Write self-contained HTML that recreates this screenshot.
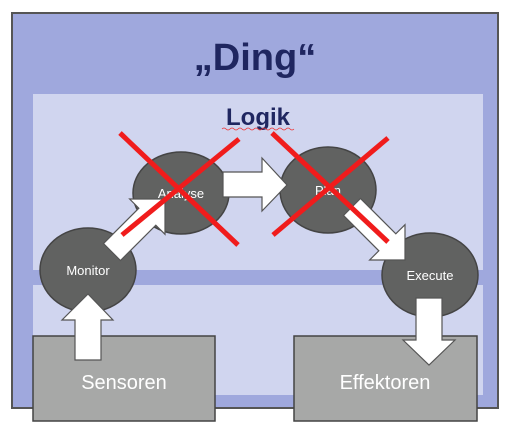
<!DOCTYPE html>
<html><head><meta charset="utf-8"><style>
html,body{margin:0;padding:0;background:#fff;}
svg{display:block;}
text{font-family:"Liberation Sans",Arial,sans-serif;}
</style></head><body>
<svg width="509" height="430" viewBox="0 0 509 430" xmlns="http://www.w3.org/2000/svg">
<rect x="12" y="13" width="486" height="395" fill="#9fa8dd" stroke="#555" stroke-width="2"/>
<rect x="33" y="94" width="450" height="176" fill="#d0d5ef"/>
<rect x="33" y="285" width="450" height="110" fill="#d0d5ef"/>
<text x="255" y="70" text-anchor="middle" font-size="38" font-weight="bold" fill="#1f2660">„Ding“</text>
<text x="258" y="125" text-anchor="middle" font-size="24" font-weight="bold" fill="#1f2660">Logik</text>
<path d="M222 129 q2 -2 4 0 t4 0 t4 0 t4 0 t4 0 t4 0 t4 0 t4 0 t4 0 t4 0 t4 0 t4 0 t4 0 t4 0 t4 0 t4 0 t4 0 t4 0" fill="none" stroke="#e33" stroke-width="0.8"/>

<g fill="#616261" stroke="#444" stroke-width="1.5">
<ellipse cx="181" cy="193" rx="48" ry="41"/>
<ellipse cx="328" cy="190" rx="48" ry="43"/>
<ellipse cx="88" cy="270" rx="48" ry="42"/>
<ellipse cx="430" cy="275" rx="48" ry="42"/>
</g>
<g fill="#fff" font-size="13" text-anchor="middle">
<text x="181" y="198">Analyse</text>
<text x="328" y="195">Plan</text>
<text x="88" y="275">Monitor</text>
<text x="430" y="280">Execute</text>
</g>

<g fill="#a7a8a7" stroke="#444" stroke-width="1.5">
<rect x="33" y="336" width="182" height="85"/>
<rect x="294" y="336" width="183" height="85"/>
</g>
<g fill="#fff" font-size="20" text-anchor="middle">
<text x="124" y="389">Sensoren</text>
<text x="385" y="389">Effektoren</text>
</g>

<g fill="#fff" stroke="#555" stroke-width="1.2">
<!-- up arrow -->
<polygon points="75,360 75,320 62,320 88,294 113,320 101,320 101,360"/>
<!-- down arrow -->
<polygon points="416,298 442,298 442,340 455,340 429,365 403,340 416,340"/>
<!-- analyse to plan -->
<polygon points="223,172 262,172 262,158 287,185 262,211 262,197 223,197"/>
<!-- monitor to analyse -->
<g transform="translate(165,199) rotate(-45)">
<polygon points="-75,-12 -25,-12 -25,-25 0,0 -25,25 -25,12 -75,12"/>
</g>
<!-- plan to execute -->
<g transform="translate(405,260) rotate(45)">
<polygon points="-75,-12 -25,-12 -25,-25 0,0 -25,25 -25,12 -75,12"/>
</g>
</g>

<g stroke="#f01c1c" stroke-width="5">
<line x1="120" y1="133" x2="238" y2="245"/>
<line x1="239" y1="139" x2="122" y2="235"/>
<line x1="272" y1="133" x2="388" y2="242"/>
<line x1="388" y1="138" x2="273" y2="235"/>
</g>
</svg>
</body></html>
